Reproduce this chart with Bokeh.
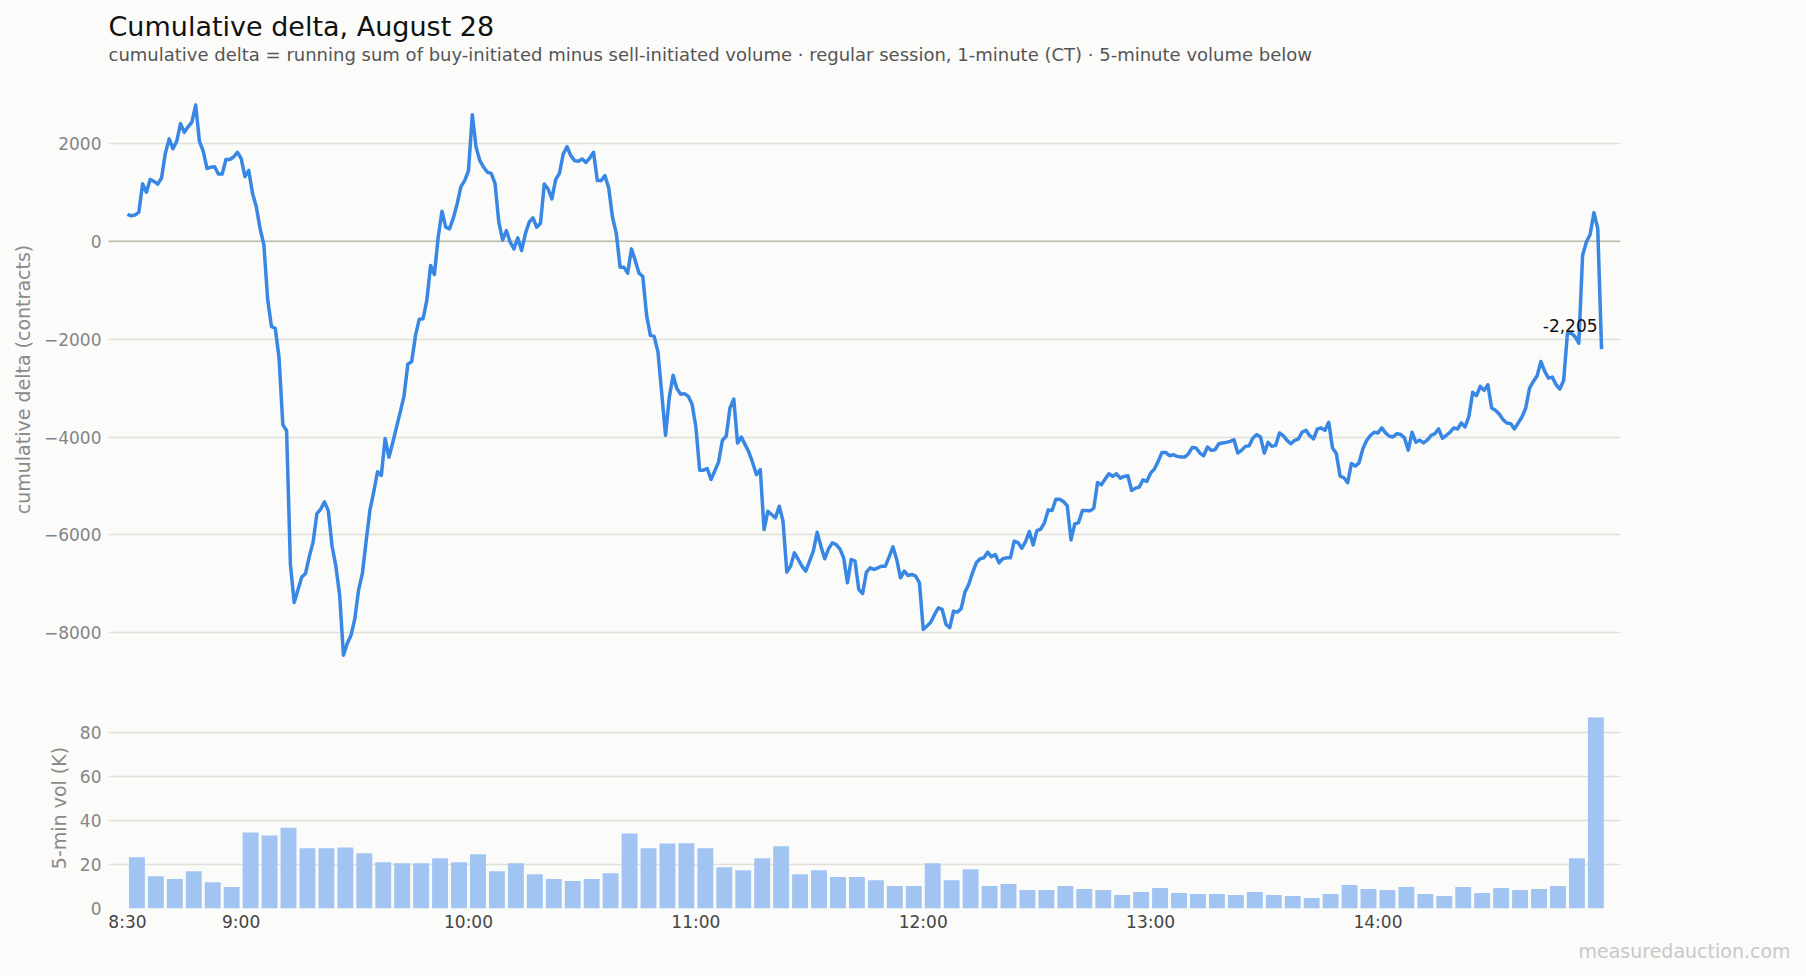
from bokeh.plotting import figure
from bokeh.models import (Range1d, FixedTicker, CustomJSTickFormatter, Span, Label, Title)
from bokeh.layouts import column
from bokeh.embed import file_html
from bokeh.resources import INLINE

FONT = "DejaVu Sans"
BG = "#fbfbf9"

# ---------------- data ----------------
title_text = "Cumulative delta, August 28"
subtitle_text = ("cumulative delta = running sum of buy-initiated minus sell-initiated volume"
                 " \u00b7 regular session, 1-minute (CT) \u00b7 5-minute volume below")
watermark_text = "measuredauction.com"
last_label = "-2,205"

# minutes after 8:30 CT (one point per minute)
minutes = list(range(390))

# cumulative delta (contracts)
delta = [
    549, 519, 534, 593, 1172, 1001, 1261, 1224, 1165, 1291,
    1795, 2092, 1892, 2040, 2403, 2225, 2337, 2433, 2782, 2040,
    1840, 1484, 1513, 1521, 1372, 1372, 1669, 1669, 1721, 1817,
    1691, 1320, 1447, 979, 705, 260, -74, -1187, -1743, -1780,
    -2374, -3746, -3872, -6602, -7381, -7121, -6862, -6787, -6439, -6142,
    -5564, -5474, -5326, -5504, -6231, -6639, -7233, -8457, -8219, -8049,
    -7715, -7121, -6787, -6120, -5489, -5118, -4710, -4785, -4028, -4414,
    -4117, -3798, -3486, -3153, -2507, -2463, -1929, -1595,
    -1584, -1210, -496, -680, 82, 612, 286, 252, 476, 762,
    1115, 1238, 1442, 2584, 1918, 1646, 1510, 1408, 1387, 1183,
    388, 27, 218, -20, -156, 68, -190, 150, 388, 476,
    286, 367, 1170, 1068, 864, 1258, 1387, 1782, 1931, 1748,
    1646, 1632, 1680, 1612, 1700, 1816, 1238, 1238, 1340, 1088,
    490, 163, -530, -530, -653, -156, -394, -653, -721, -1516,
    -1924, -1945, -2264, -3114, -3964, -3182, -2740, -3012, -3128, -3114,
    -3169, -3332, -3794, -4678, -4678, -4644, -4869, -4692, -4508, -4066,
    -3986, -3408, -3225, -4122, -4000, -4156, -4313, -4530, -4768, -4666,
    -5890, -5516, -5584, -5652, -5414, -5720, -6761, -6638, -6366, -6502,
    -6638, -6740, -6536, -6332, -5945, -6230, -6488, -6285, -6162, -6196,
    -6285, -6468, -6978, -6502, -6536, -7114, -7196, -6761, -6672, -6706,
    -6672, -6638, -6638, -6448, -6244, -6502, -6876, -6740, -6829, -6808,
    -6842, -6978, -7930, -7862, -7781, -7625, -7489, -7523, -7829, -7896,
    -7557, -7577, -7509, -7169, -7012, -6774, -6570, -6488, -6468, -6353,
    -6448, -6400, -6570, -6488, -6468, -6468, -6128,
    -6157, -6273, -6137, -5932, -6205, -5911, -5884, -5747, -5488, -5502,
    -5270, -5270, -5317, -5406, -6102, -5775, -5747, -5502, -5502, -5509,
    -5454, -4928, -4976, -4860, -4751, -4805, -4751, -4840, -4805, -4792,
    -5092, -5044, -5024, -4874, -4908, -4737, -4655, -4498, -4314, -4314,
    -4382, -4362, -4396, -4410, -4410, -4341, -4212, -4225, -4328, -4382,
    -4205, -4273, -4259, -4137, -4123, -4109, -4089, -4055, -4328, -4273,
    -4191, -4177, -4020, -3952, -4000, -4328, -4109, -4191, -4171, -3918,
    -3973, -4068, -4137, -4068, -4041, -3898, -3863, -3973,
    -4038, -3835, -3814, -3862, -3699, -4222, -4337, -4798, -4832, -4934,
    -4540, -4595, -4527, -4242, -4072, -3970, -3903, -3916, -3814, -3916,
    -3984, -3998, -3930, -3950, -4018, -4269, -3903, -4106, -4065, -4120,
    -4065, -3970, -3930, -3835, -4025, -3970, -3903, -3814, -3835, -3713,
    -3794, -3577, -3088, -3156, -2966, -3047, -2932, -3407, -3455, -3529,
    -3645, -3713, -3726, -3835, -3713, -3590, -3407, -3000, -2864, -2749,
    -2457, -2661, -2796, -2776, -2932, -3020, -2844, -1880, -1880, -1948,
    -2084, -285, -14, 143, 584, 258, -2205,
]

# 5-minute bars: start minute after 8:30 and volume in thousands
bar_start = list(range(0, 390, 5))
vol_k = [
    23.3, 14.7, 13.4, 17.0, 12.0, 9.8,
    34.6, 33.2, 36.8, 27.4, 27.4, 27.8, 25.1, 21.1, 20.6, 20.6, 22.9, 21.1,
    24.7, 17.0, 20.6, 15.6, 13.4, 12.5, 13.4, 16.1, 34.1, 27.4, 29.6, 29.7,
    27.4, 18.8, 17.4, 22.9, 28.3, 15.6, 17.4, 14.3, 14.3, 12.9, 10.2, 10.2,
    20.6, 12.9, 17.9, 10.2, 11.1, 8.4, 8.4, 10.2, 8.9, 8.4, 6.2, 7.5,
    9.3, 7.1, 6.6, 6.6, 6.2, 7.5, 6.2, 5.7, 4.8, 6.6, 10.7, 8.9,
    8.4, 9.8, 6.6, 5.7, 9.8, 7.1, 9.3, 8.4, 8.9, 10.2, 22.9, 86.9,
]

tick_minutes = [0, 30, 90, 150, 210, 270, 330]
tick_labels = ["8:30", "9:00", "10:00", "11:00", "12:00", "13:00", "14:00"]
delta_ticks = [-8000, -6000, -4000, -2000, 0, 2000]
vol_ticks = [0, 20, 40, 60, 80]

# ---------------- styling helpers ----------------
LINE_COLOR = "#3987e5"
BAR_COLOR = "#a1c4f3"
GRID_COLOR = "#e0e0da"
ZERO_COLOR = "#bbbbae"
TICK_COLOR = "#858585"
XTICK_COLOR = "#444444"

x_range = Range1d(-5, 394)


def style_y(p, ticks, label):
    ax = p.yaxis[0]
    ax.ticker = FixedTicker(ticks=ticks)
    ax.axis_label = label
    ax.axis_label_text_font = FONT
    ax.axis_label_text_font_size = "19px"
    ax.axis_label_text_font_style = "normal"
    ax.axis_label_text_color = "#8a8a8a"
    ax.axis_label_standoff = 7
    ax.major_label_text_font = FONT
    ax.major_label_text_font_size = "17px"
    ax.major_label_text_color = TICK_COLOR
    ax.major_label_standoff = 7
    ax.major_tick_out = 0
    ax.major_tick_in = 0
    ax.minor_tick_out = 0
    ax.minor_tick_in = 0
    ax.axis_line_color = None
    ax.major_tick_line_color = None
    ax.minor_tick_line_color = None
    p.ygrid.ticker = FixedTicker(ticks=ticks)
    p.ygrid.grid_line_color = GRID_COLOR
    p.ygrid.grid_line_width = 1.3
    p.xgrid.visible = False


# ---------------- top: cumulative delta ----------------
top = figure(width=1790, height=693, x_range=x_range, y_range=Range1d(-8770, 3120),
             title=None, output_backend="svg", toolbar_location=None,
             x_axis_location=None,
             min_border_left=108, min_border_right=170,
             min_border_top=88, min_border_bottom=23,
             background_fill_color=BG, border_fill_color=BG,
             outline_line_color=None)
style_y(top, delta_ticks, "cumulative delta (contracts)")
top.yaxis[0].formatter = CustomJSTickFormatter(
    code="return tick < 0 ? '\\u2212' + Math.abs(tick) : String(tick);")

top.add_layout(Span(location=0, dimension="width", line_color=ZERO_COLOR,
                    line_width=1.6, level="underlay"))
top.line(minutes, delta, line_color=LINE_COLOR, line_width=3.5, line_join="round")

top.add_layout(Label(x=minutes[-1], y=delta[-1], text=last_label,
                     text_align="right", text_baseline="alphabetic",
                     x_offset=-4, y_offset=24, text_font=FONT,
                     text_font_size="17px", text_color="#111111"))

# stacked header: blank spacer row (next to frame), subtitle, title
spacer = Title(text=" ", align="left", text_font=FONT, text_font_size="18px",
               text_color=BG, standoff=1)
top.add_layout(spacer, "above")
sub = Title(text=subtitle_text, align="left", text_font=FONT, text_font_size="18px",
            text_font_style="normal", text_color="#555555", standoff=0)
top.add_layout(sub, "above")
main = Title(text=title_text, align="left", text_font=FONT, text_font_size="27px",
             text_font_style="normal", text_color="#111111", standoff=0)
top.add_layout(main, "above")

# ---------------- bottom: 5-minute volume ----------------
bot = figure(width=1790, height=275, x_range=x_range, y_range=Range1d(0, 91.5),
             title=None, output_backend="svg", toolbar_location=None,
             min_border_left=108, min_border_right=170,
             min_border_top=14, min_border_bottom=58,
             background_fill_color=BG, border_fill_color=BG,
             outline_line_color=None)
style_y(bot, vol_ticks, "5-min vol (K)")
bot.vbar(x=[s + 2.5 for s in bar_start], top=vol_k, width=4.2,
         fill_color=BAR_COLOR, line_color=None)

xa = bot.xaxis[0]
xa.ticker = FixedTicker(ticks=tick_minutes)
xa.major_label_overrides = dict(zip(tick_minutes, tick_labels))
xa.major_label_text_font = FONT
xa.major_label_text_font_size = "17px"
xa.major_label_text_color = XTICK_COLOR
xa.major_label_standoff = 3
xa.major_tick_out = 0
xa.major_tick_in = 0
xa.minor_tick_out = 0
xa.minor_tick_in = 0
xa.axis_line_color = None
xa.major_tick_line_color = None
xa.minor_tick_line_color = None

wm = Title(text=watermark_text, align="left", offset=1470, vertical_align="top",
           text_font=FONT, text_font_size="19px", text_font_style="normal",
           text_color="#c8c8c8", standoff=10)
bot.add_layout(wm, "below")

p = column(top, bot, spacing=0, background=BG)

html = file_html(p, INLINE)
html = html.replace("</head>", "<style>html,body{background:%s;}</style></head>" % BG, 1)
open("out.html", "w", encoding="utf-8").write(html)
